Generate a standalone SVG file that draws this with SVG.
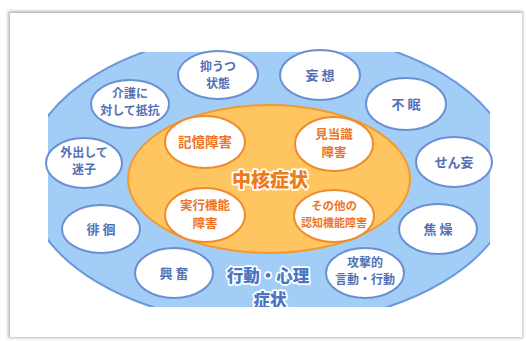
<svg xmlns="http://www.w3.org/2000/svg" width="526" height="341" viewBox="0 0 526 341">
<defs>
<filter id="shadow" x="-5%" y="-5%" width="110%" height="110%">
<feGaussianBlur stdDeviation="1.5"/>
</filter>
<clipPath id="clip"><rect x="48" y="52" width="442" height="255"/></clipPath>
</defs>
<style>
.outer ellipse{fill:#ffffff;stroke:#6b8fd3;stroke-width:2}
.outer text{font-family:"Noto Sans CJK JP","Noto Sans",sans-serif;font-weight:700;font-size:13px;fill:#5470b4;text-anchor:middle}
.outer text.two{font-size:12px}
.inner ellipse{fill:#ffffff;stroke:#f08a2a;stroke-width:2}
.inner text{font-family:"Noto Sans CJK JP","Noto Sans",sans-serif;font-weight:700;font-size:13.5px;fill:#ee7424;text-anchor:middle}
.inner text.two{font-size:12.5px}
.big{font-family:"Noto Sans CJK JP","Noto Sans",sans-serif;font-weight:900;text-anchor:middle;stroke:#ffffff;stroke-width:3.5;paint-order:stroke;stroke-linejoin:round}
</style>
<rect x="0" y="0" width="526" height="341" fill="#ffffff"/>
<rect x="8" y="11" width="515" height="327" fill="#b8b8b8" filter="url(#shadow)"/>
<rect x="10" y="13" width="512" height="324" fill="#ffffff"/>
<g id="background" clip-path="url(#clip)">
<ellipse cx="270" cy="178" rx="245" ry="147" fill="#a2cdf7" stroke="#6a98dc" stroke-width="2"/>
</g>
<g id="core">
<ellipse cx="269" cy="179" rx="141" ry="74" fill="#ffc560" stroke="#f29a2e" stroke-width="2"/>
<text class="big" x="270" y="187" font-size="19" fill="#f07a1a">中核症状</text>
</g>
<g id="bpsd-label">
<g clip-path="url(#clip)">
<text class="big" x="268" y="282" font-size="16.5" fill="#4a74c6">行動・心理</text>
<text class="big" x="270" y="306" font-size="16.5" fill="#4a74c6">症状</text>
</g>
</g>
<g id="n-memory" class="inner">
<ellipse cx="205" cy="142" rx="40" ry="26"/>
<text x="205" y="147">記憶障害</text>
</g>
<g id="n-orientation" class="inner">
<ellipse cx="334" cy="144" rx="39" ry="27"/>
<text class="two" x="334" y="139">見当識</text>
<text class="two" x="334" y="157">障害</text>
</g>
<g id="n-executive" class="inner">
<ellipse cx="205" cy="215" rx="40" ry="27"/>
<text class="two" x="205" y="210">実行機能</text>
<text class="two" x="205" y="228">障害</text>
</g>
<g id="n-other" class="inner">
<ellipse cx="334" cy="216" rx="40" ry="26"/>
<text x="334" y="210" style="font-size:11.5px">その他の</text>
<text x="334" y="227" style="font-size:11px">認知機能障害</text>
</g>
<g id="n-depression" class="outer">
<ellipse cx="218" cy="75" rx="40" ry="24"/>
<text class="two" x="218" y="71">抑うつ</text>
<text class="two" x="218" y="88">状態</text>
</g>
<g id="n-delusion" class="outer">
<ellipse cx="320" cy="75" rx="40" ry="25"/>
<text x="320" y="80">妄 想</text>
</g>
<g id="n-resist" class="outer">
<ellipse cx="130" cy="104" rx="39" ry="24"/>
<text class="two" x="130" y="98">介護に</text>
<text class="two" x="130" y="115">対して抵抗</text>
</g>
<g id="n-insomnia" class="outer">
<ellipse cx="406" cy="104" rx="40" ry="26"/>
<text x="406" y="109">不 眠</text>
</g>
<g id="n-lost" class="outer">
<ellipse cx="84" cy="163" rx="38" ry="25"/>
<text class="two" x="84" y="157">外出して</text>
<text class="two" x="84" y="174">迷子</text>
</g>
<g id="n-delirium" class="outer">
<ellipse cx="454" cy="162" rx="38" ry="25"/>
<text x="454" y="167">せん妄</text>
</g>
<g id="n-wander" class="outer">
<ellipse cx="101" cy="229" rx="39" ry="24"/>
<text x="101" y="234">徘 徊</text>
</g>
<g id="n-agitation" class="outer">
<ellipse cx="438" cy="229" rx="39" ry="25"/>
<text x="438" y="234">焦 燥</text>
</g>
<g id="n-excitement" class="outer">
<ellipse cx="174" cy="273" rx="39" ry="25"/>
<text x="174" y="278">興 奮</text>
</g>
<g id="n-aggression" class="outer">
<ellipse cx="365" cy="273" rx="39" ry="25"/>
<text class="two" x="365" y="267">攻撃的</text>
<text class="two" x="365" y="284">言動・行動</text>
</g>
</svg>
